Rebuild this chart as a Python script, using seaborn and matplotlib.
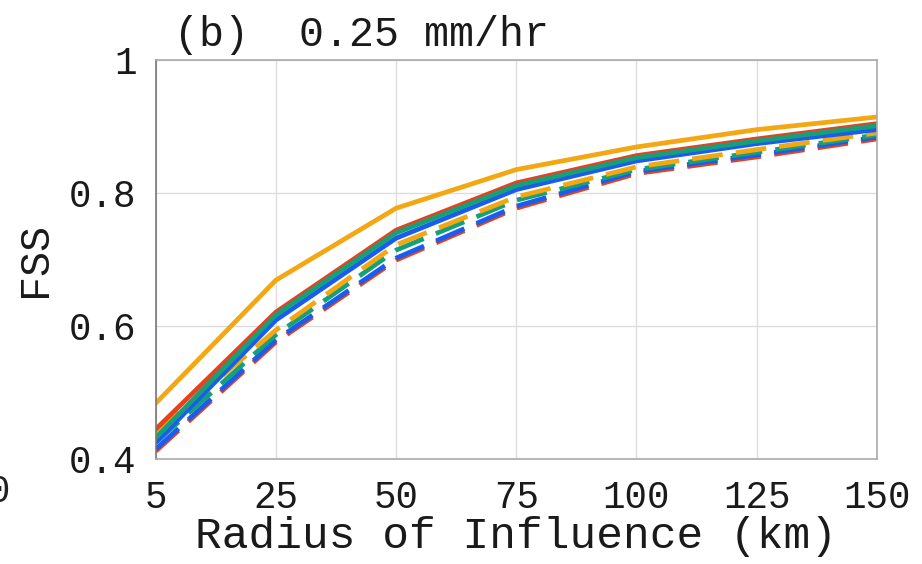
import numpy as np
import pandas as pd
import matplotlib
matplotlib.use("Agg")
import matplotlib.pyplot as plt
import seaborn as sns

# ---- data ----
radius_labels = ["5", "25", "50", "75", "100", "125", "150"]
yticks = [0.4, 0.6, 0.8, 1.0]
ytick_labels = ["0.4", "0.6", "0.8", "1"]

dashed_red    = [0.412, 0.576, 0.699, 0.777, 0.829, 0.854, 0.881]
dashed_blue   = [0.415, 0.579, 0.702, 0.780, 0.832, 0.857, 0.884]
dashed_green  = [0.425, 0.587, 0.714, 0.789, 0.835, 0.861, 0.887]
dashed_orange = [0.440, 0.594, 0.722, 0.794, 0.839, 0.865, 0.890]
solid_red     = [0.445, 0.621, 0.744, 0.815, 0.856, 0.881, 0.904]
solid_blue    = [0.425, 0.609, 0.732, 0.805, 0.848, 0.874, 0.895]
solid_green   = [0.432, 0.617, 0.740, 0.811, 0.853, 0.878, 0.901]
solid_orange  = [0.484, 0.669, 0.777, 0.835, 0.869, 0.895, 0.914]

series = {
    "dashed red": dashed_red,
    "dashed blue": dashed_blue,
    "dashed green": dashed_green,
    "dashed orange": dashed_orange,
    "solid red": solid_red,
    "solid blue": solid_blue,
    "solid green": solid_green,
    "solid orange": solid_orange,
}

ORANGE = "#F3A712"
RED = "#E5431F"
GREEN = "#16A07A"
BLUE = "#1A5CF0"
palette = {
    "dashed red": RED, "dashed blue": BLUE, "dashed green": GREEN, "dashed orange": ORANGE,
    "solid red": RED, "solid blue": BLUE, "solid green": GREEN, "solid orange": ORANGE,
}
dash_pat = (6.5, 2.8)
dashes = {k: (dash_pat if k.startswith("dashed") else "") for k in series}

rows = []
for name, vals in series.items():
    for i, v in enumerate(vals):
        rows.append({"pos": i, "FSS": v, "series": name})
df = pd.DataFrame(rows)

sns.set_theme(style="white")
plt.rcParams["font.family"] = ["Liberation Mono", "DejaVu Sans Mono"]

fig = plt.figure(figsize=(9.22, 5.64), dpi=100)
ax = fig.add_axes([0.169, 0.186, 0.782, 0.708])

order = list(series.keys())
sns.lineplot(data=df, x="pos", y="FSS", hue="series", style="series",
             hue_order=order, style_order=order, palette=palette,
             dashes=dashes, linewidth=3.4, legend=False, ax=ax,
             estimator=None, sort=False)

ax.set_xlim(0, len(radius_labels) - 1)
ax.set_ylim(0.4, 1.0)
ax.set_xticks(range(len(radius_labels)))
ax.set_xticklabels(radius_labels, fontsize=27, color="#1a1a1a")
ax.set_yticks(yticks)
ax.set_yticklabels(ytick_labels, fontsize=27, color="#1a1a1a")
ax.grid(True, color="#dddddd", linewidth=1.0)
ax.tick_params(axis="x", direction="in", length=5, width=1, color="#888888", pad=15)
ax.tick_params(axis="y", direction="in", length=5, width=1, color="#888888", pad=14)
for s in ["top", "right", "bottom"]:
    ax.spines[s].set_color("#aaaaaa")
    ax.spines[s].set_linewidth(1.2)
ax.spines["left"].set_color("#777777")
ax.spines["left"].set_linewidth(1.2)

ax.set_xlabel("Radius of Influence (km)", fontsize=32, labelpad=0, color="#1a1a1a")
ax.set_ylabel("FSS", fontsize=30, labelpad=10, color="#1a1a1a")
ax.set_title("(b)  0.25 mm/hr", fontsize=30, loc="left", x=0.025, pad=10, color="#1a1a1a")

fig.text(0.012, 0.128, "150", fontsize=27, ha="right", va="center", color="#222222")

fig.savefig("out.png", dpi=100)
